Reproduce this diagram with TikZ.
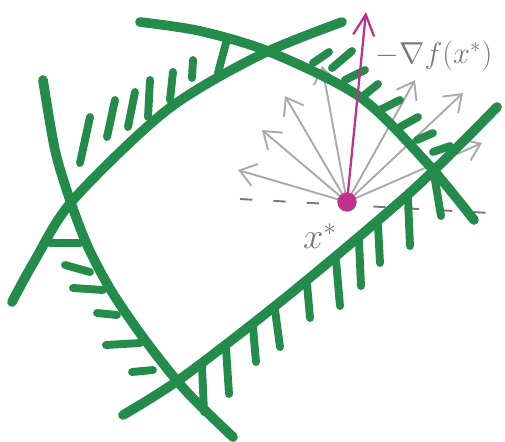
\documentclass[tikz,border=0pt]{standalone}
\usepackage{tikz}
\usetikzlibrary{arrows.meta}
\definecolor{marker}{RGB}{36,140,74}
\definecolor{pencil}{RGB}{170,170,170}
\definecolor{pencildark}{RGB}{120,120,120}
\definecolor{gradpen}{RGB}{190,50,140}
\tikzset{
  bound/.style={draw=marker, line width=5.5pt, line cap=round},
  hatch/.style={draw=marker, line width=4.5pt, line cap=round},
  dirarrow/.style={draw=pencil, line width=1.1pt, line cap=round,
    -{Straight Barb[length=9pt,width=13pt]}},
  gradarrow/.style={draw=gradpen, line width=1.3pt,
    -{Straight Barb[length=12pt,width=12pt]}},
  tangent/.style={draw=pencildark, line width=1.1pt, dash pattern=on 7pt off 12pt},
  xdot/.style={circle, fill=gradpen, inner sep=0pt, minimum size=11pt},
  lbl/.style={text=pencildark, inner sep=1pt}
}

\begin{document}
\begin{tikzpicture}[x=0.02cm, y=-0.02cm]
\useasboundingbox (0,0) rectangle (505,441);

% feasible directions at x*
\coordinate (xs0) at (347,202);
\coordinate (tl) at (240,199);
\coordinate (tr) at (490,213);
\draw[tangent] (tl) -- (tr);
\foreach \x/\y [count=\i] in {
  238/170, 262/130, 285/96, 322/66,
  415/80, 463/93, 482/143
}
{
  \coordinate (d\i) at (\x,\y);
  \draw[dirarrow] (xs0) -- (d\i);
}

% constraint boundaries
\draw[bound] plot[smooth] coordinates {(140,22) (200,31) (270,52) (360,97) (427,163) (474,220)};
\draw[bound] plot[smooth] coordinates {(342,22) (260,55) (167,110) (73,200) (35,260) (12,302)};
\draw[bound] plot[smooth] coordinates {(43,80) (55,150) (70,200) (88,247) (112,292) (145,340) (185,390) (233,437)};
\draw[bound] plot[smooth] coordinates {(123,415) (183,377) (290,294) (413,190) (497,107)};

% hatches, upper left boundary
\foreach \a/\b/\c/\d in {
  80/163/90/117, 107/137/115/100, 128/127/135/92, 148/117/150/80,
  170/100/173/72, 192/78/193/60, 218/73/226/43
}
{
  \draw[hatch] (\a,\b) -- (\c,\d);
}

% hatches, upper right boundary
\foreach \a/\b/\c/\d in {
  313/63/329/52, 332/68/352/51, 345/80/365/70, 362/97/378/84,
  380/110/400/100, 400/127/418/117, 417/140/433/133, 433/152/450/146
}
{
  \draw[hatch] (\a,\b) -- (\c,\d);
}

% hatches, lower left boundary
\foreach \a/\b/\c/\d in {
  50/243/80/243, 65/265/90/272, 73/288/103/290,
  97/313/117/315, 106/345/140/343, 132/372/153/370
}
{
  \draw[hatch] (\a,\b) -- (\c,\d);
}

% hatches, lower right boundary
\foreach \a/\b/\c/\d in {
  202/366/204/412, 226/348/229/394, 253/327/256/362, 275/310/280/347,
  307/284/310/318, 336/260/340/306, 359/241/361/286, 378/225/380/263,
  408/199/410/246, 434/174/441/216
}
{
  \draw[hatch] (\a,\b) -- (\c,\d);
}

% negative gradient
\coordinate (gtip) at (366,12);
\draw[gradarrow] (xs0) -- (gtip);
\node[xdot] (xs) at (xs0) {};

% labels
\node[lbl, font=\fontsize{18}{20}\selectfont] (glbl) at (434,56) {$-\nabla f(x^*)$};
\node[lbl, font=\fontsize{20}{22}\selectfont] (xlbl) at (320,236) {$x^*$};

\end{tikzpicture}
\end{document}
